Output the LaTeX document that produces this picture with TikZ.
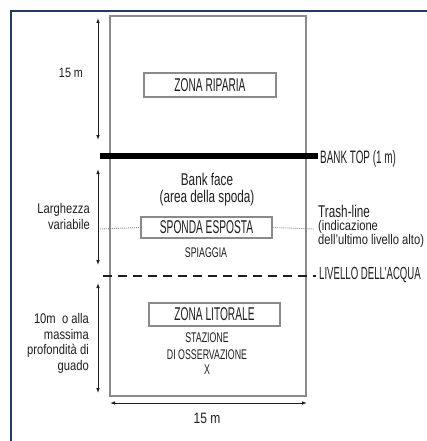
\documentclass[tikz,border=0pt]{standalone}
\usepackage{fontspec}
\setmainfont{Liberation Sans}
\newfontfamily\fcap[FakeStretch=0.55]{Liberation Sans}
\newfontfamily\flow[FakeStretch=0.69]{Liberation Sans}
\newfontfamily\fsl[FakeStretch=0.8]{Liberation Sans}
\newfontfamily\fsc[FakeStretch=0.63]{Liberation Sans}
\usetikzlibrary{arrows.meta}
\definecolor{navy}{HTML}{1C3B6E}
\definecolor{rimgray}{HTML}{8A8A8A}
\definecolor{ink}{HTML}{1E1E1E}
\tikzset{
  x=1pt, y=-1pt,
  frame/.style={draw=navy, line width=1.4pt},
  rim/.style={draw=rimgray, line width=1.4pt},
  zonebox/.style={draw=rimgray, line width=1.4pt, fill=white, inner sep=0pt, text=ink, font=\fcap\fontsize{18.5}{20}\selectfont},
  dimarrow/.style={draw=ink, line width=0.9pt, {Latex[length=5pt,width=3.6pt]}-{Latex[length=5pt,width=3.6pt]}},
  captxt/.style={inner sep=0pt, text=ink, font=\fcap\fontsize{18}{20}\selectfont},
  lowtxt/.style={inner sep=0pt, text=ink, font=\flow\fontsize{17}{19}\selectfont},
  sltxt/.style={inner sep=0pt, text=ink, font=\fsl\fontsize{14}{16}\selectfont},
  sctxt/.style={inner sep=0pt, text=ink, font=\fsc\fontsize{14}{16}\selectfont},
  dots/.style={draw=rimgray, line width=0.9pt, dash pattern=on 1pt off 1pt},
  waterline/.style={draw=ink, line width=2pt, dash pattern=on 9pt off 6pt},
  banktop/.style={draw=black, line width=6pt},
}
\begin{document}
\begin{tikzpicture}
\useasboundingbox (0,0) rectangle (427,441);
% frame
\draw[frame] (11,441) -- (11,11) -- (427,11);
% main rectangle
\draw[rim] (110,16) rectangle (306,396);
% zone boxes
\node[zonebox, minimum width=132pt, minimum height=24pt] (riparia) at (210,85) {ZONA RIPARIA};
\node[zonebox, minimum width=131pt, minimum height=21pt] (sponda) at (206.5,227.5) {SPONDA ESPOSTA};
\node[zonebox, minimum width=131pt, minimum height=23pt] (litorale) at (214.5,314.5) {ZONA LITORALE};
% bank top
\coordinate (btL) at (100,156);
\coordinate (btR) at (318,156);
\draw[banktop] (btL) -- (btR);
\node[captxt, anchor=west] (banktoplbl) at (320,159) {BANK TOP (1 m)};
% water level
\coordinate (wlL) at (103,276);
\coordinate (wlR) at (316,276);
\draw[waterline] (wlL) -- (wlR);
\node[captxt, anchor=west, font=\fcap\fontsize{17.5}{19}\selectfont] (livello) at (319,275) {LIVELLO DELL’ACQUA};
% trash line (dotted)
\coordinate (dotL) at (100,229);
\coordinate (dotR) at (314,229);
\draw[dots] (dotL) -- (sponda.west);
\draw[dots] (sponda.east) -- (dotR);
\node[lowtxt, anchor=west] (trash) at (318,211) {Trash-line};
\node[sltxt, anchor=west] (indic1) at (318,227) {(indicazione};
\node[sltxt, anchor=west] (indic2) at (318,241) {dell’ultimo livello alto)};
% inner texts
\node[lowtxt] (bankface) at (207,179) {Bank face};
\node[lowtxt] (area) at (207,198.5) {(area della spoda)};
\node[sctxt] (spiaggia) at (206,253) {SPIAGGIA};
\node[sctxt] (staz1) at (207,338) {STAZIONE};
\node[sctxt] (staz2) at (207,355) {DI OSSERVAZIONE};
\node[sctxt] (staz3) at (207,370) {X};
% vertical dimension arrows
\coordinate (a1t) at (98,18);  \coordinate (a1b) at (98,140);
\coordinate (a2t) at (98,169); \coordinate (a2b) at (98,265);
\coordinate (a3t) at (98,283); \coordinate (a3b) at (98,393);
\draw[dimarrow] (a1t) -- (a1b);
\draw[dimarrow] (a2t) -- (a2b);
\draw[dimarrow] (a3t) -- (a3b);
% bottom dimension arrow
\coordinate (hL) at (110,403); \coordinate (hR) at (307,403);
\draw[dimarrow] (hL) -- (hR);
\node[sltxt, font=\fsl\fontsize{15}{17}\selectfont] (bot15) at (207,418) {15 m};
% left labels
\node[sltxt, font=\fsl\fontsize{13.5}{15}\selectfont] (top15) at (71,73) {15 m};
\node[sltxt, anchor=east] (larg1) at (90,210) {Larghezza};
\node[sltxt, anchor=east] (larg2) at (90,224) {variabile};
\node[sltxt, anchor=east] (prof1) at (89,318) {10m\ \ o alla};
\node[sltxt, anchor=east] (prof2) at (89,334) {massima};
\node[sltxt, anchor=east] (prof3) at (89,351) {profondità di};
\node[sltxt, anchor=east] (prof4) at (89,367) {guado};
\end{tikzpicture}
\end{document}
